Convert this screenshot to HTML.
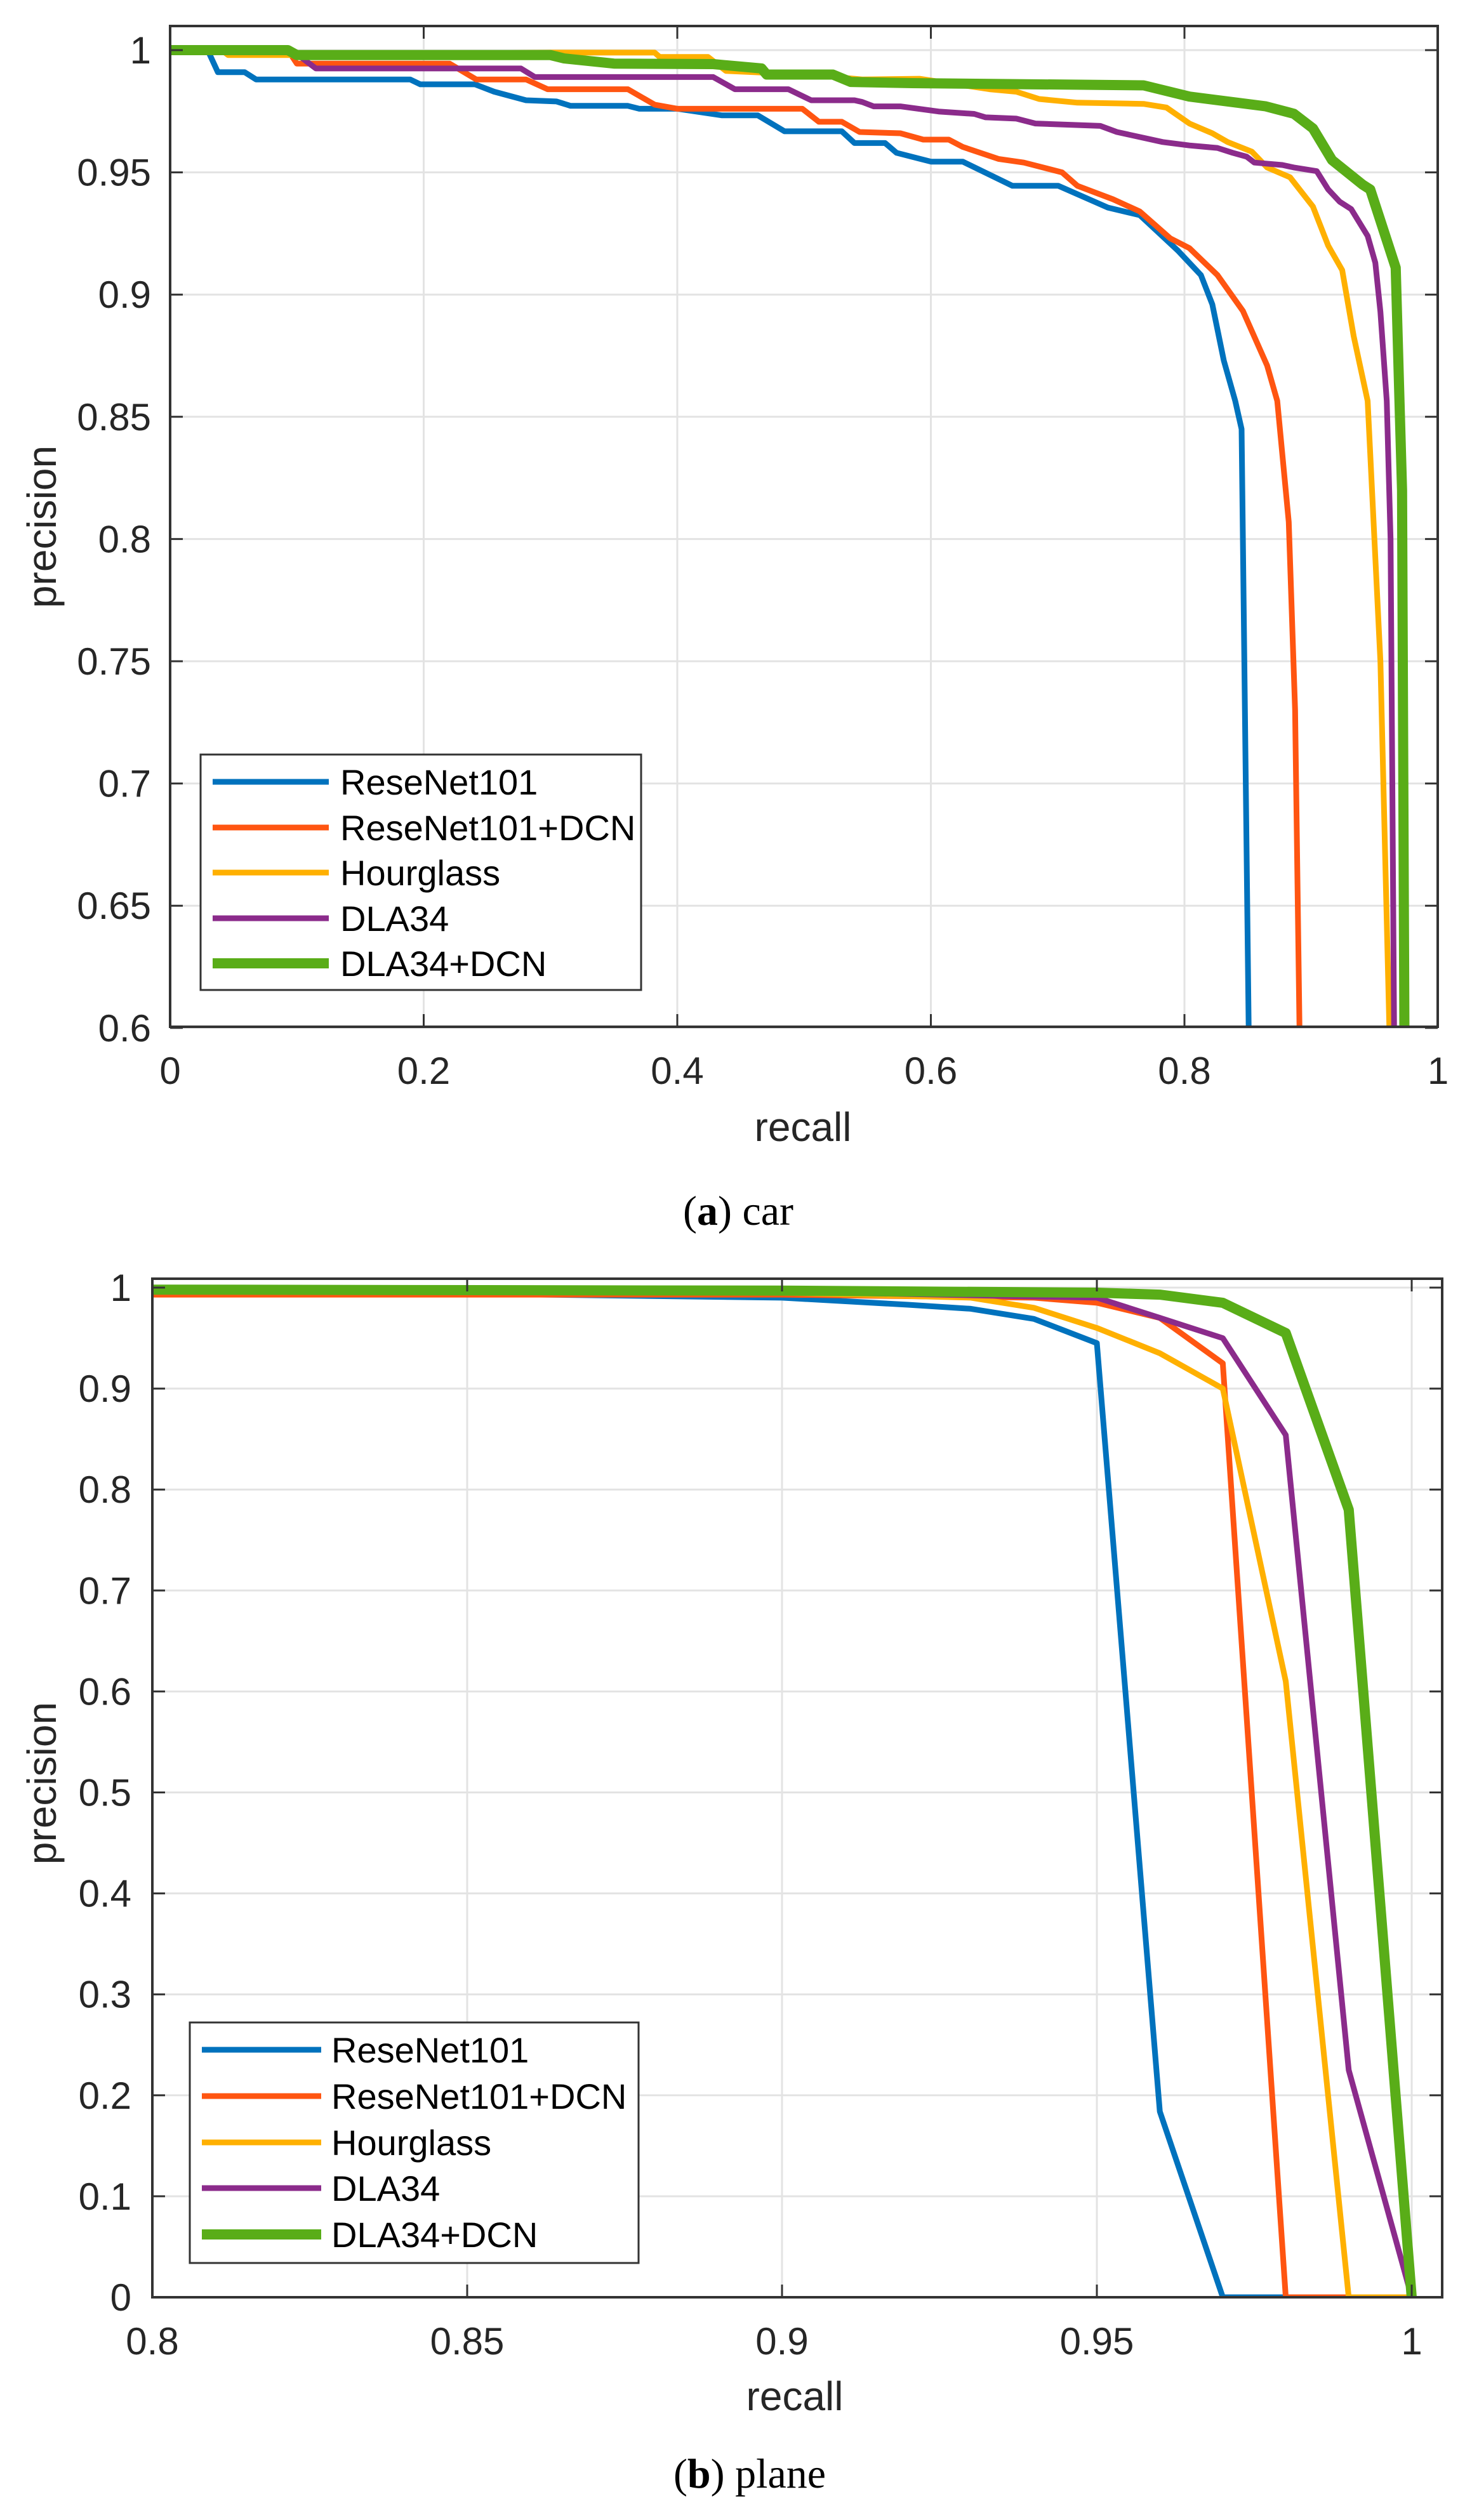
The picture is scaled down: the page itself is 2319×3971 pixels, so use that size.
<!DOCTYPE html>
<html><head><meta charset="utf-8"><style>
html,body{margin:0;padding:0;background:#fff;}
svg{display:block;}
</style></head><body>
<svg id="s" width="2319" height="3971" viewBox="0 0 2319 3971" xmlns="http://www.w3.org/2000/svg" font-family="Liberation Sans, Arial, sans-serif">
<rect width="2319" height="3971" fill="#fff"/>
<defs>
<clipPath id="ca"><rect x="268" y="41" width="1997" height="1577"/></clipPath>
<clipPath id="cb"><rect x="240" y="2015" width="2032" height="1605"/></clipPath>
</defs>
<g id="grid"></g>
<g id="curves"></g>
<g id="axes"></g>
<g id="txt" fill="#262626" font-size="60">
<text x="71" y="830" font-size="64" text-anchor="middle" transform="rotate(-90 71 830)" dominant-baseline="middle">precision</text>
<text x="1265" y="1798" font-size="64" text-anchor="middle">recall</text>
<text x="1163" y="1930" font-size="66" text-anchor="middle" font-family="Liberation Serif, serif" fill="#000">(<tspan font-weight="bold">a</tspan>) car</text>
<text x="71" y="2810" font-size="64" text-anchor="middle" transform="rotate(-90 71 2810)" dominant-baseline="middle">precision</text>
<text x="1252" y="3798" font-size="64" text-anchor="middle">recall</text>
<text x="1181" y="3920" font-size="66" text-anchor="middle" font-family="Liberation Serif, serif" fill="#000">(<tspan font-weight="bold">b</tspan>) plane</text>
</g>
<g id="leg"></g>
</svg>
<script>
var NS="http://www.w3.org/2000/svg";
function el(p,t,a,txt){var e=document.createElementNS(NS,t);for(var k in a)e.setAttribute(k,a[k]);if(txt!==undefined)e.textContent=txt;document.getElementById(p).appendChild(e);return e;}
var cols=["#0072BD","#FF5511","#FFB000","#8B2B8B","#59AD18"];
var widths=[9,9,9,9,16];
var names=["ReseNet101","ReseNet101+DCN","Hourglass","DLA34","DLA34+DCN"];
var A={l:268,r:2265,t:41,b:1618,T:function(r){return 268+1997.5*r;},X:function(r){return 269+2006*r;},Y:function(p){return 79+(1-p)*3852;}};
var B={l:240,r:2272,t:2015,b:3620,X:function(r){return 240+(r-0.8)/0.05*496;},Y:function(p){return 3620-p*1591;}};
B.T=B.X;
var i,v,x,y;
for(i=0;i<=5;i++){v=i*0.2;x=A.T(v);
 el("grid","line",{x1:x,y1:A.t,x2:x,y2:A.b,stroke:"#e3e3e3","stroke-width":3});
 el("axes","line",{x1:x,y1:A.b,x2:x,y2:A.b-20,stroke:"#333","stroke-width":3});
 el("axes","line",{x1:x,y1:A.t,x2:x,y2:A.t+20,stroke:"#333","stroke-width":3});
 el("txt","text",{x:x,y:1708,"text-anchor":"middle"},String(Math.round(v*10)/10));}
for(i=0;i<=8;i++){v=0.6+i*0.05;y=A.Y(v);
 el("grid","line",{x1:A.l,y1:y,x2:A.r,y2:y,stroke:"#e3e3e3","stroke-width":3});
 el("axes","line",{x1:A.l,y1:y,x2:A.l+20,y2:y,stroke:"#333","stroke-width":3});
 el("axes","line",{x1:A.r,y1:y,x2:A.r-20,y2:y,stroke:"#333","stroke-width":3});
 el("txt","text",{x:238,y:y+21,"text-anchor":"end"},String(Math.round(v*100)/100));}
for(i=0;i<=4;i++){v=0.8+i*0.05;x=B.X(v);
 el("grid","line",{x1:x,y1:B.t,x2:x,y2:B.b,stroke:"#e3e3e3","stroke-width":3});
 el("axes","line",{x1:x,y1:B.b,x2:x,y2:B.b-20,stroke:"#333","stroke-width":3});
 el("axes","line",{x1:x,y1:B.t,x2:x,y2:B.t+20,stroke:"#333","stroke-width":3});
 el("txt","text",{x:x,y:3710,"text-anchor":"middle"},String(Math.round(v*100)/100));}
for(i=0;i<=10;i++){v=i*0.1;y=B.Y(v);
 el("grid","line",{x1:B.l,y1:y,x2:B.r,y2:y,stroke:"#e3e3e3","stroke-width":3});
 el("axes","line",{x1:B.l,y1:y,x2:B.l+20,y2:y,stroke:"#333","stroke-width":3});
 el("axes","line",{x1:B.r,y1:y,x2:B.r-20,y2:y,stroke:"#333","stroke-width":3});
 el("txt","text",{x:207,y:y+21,"text-anchor":"end"},String(Math.round(v*10)/10));}
el("axes","rect",{x:A.l,y:A.t,width:A.r-A.l,height:A.b-A.t,fill:"none",stroke:"#333","stroke-width":4});
el("axes","rect",{x:B.l,y:B.t,width:B.r-B.l,height:B.b-B.t,fill:"none",stroke:"#333","stroke-width":4});
var dA=[
[[0,1],[.029,1],[.037,.991],[.058,.991],[.067,.988],[.188,.988],[.196,.986],[.239,.986],[.254,.983],[.279,.9795],[.303,.979],[.314,.9772],[.359,.9772],[.368,.976],[.398,.976],[.433,.9733],[.461,.9733],[.482,.9668],[.527,.9668],[.537,.962],[.561,.962],[.570,.958],[.597,.9544],[.622,.9544],[.661,.9445],[.697,.9445],[.736,.9356],[.761,.9325],[.791,.918],[.809,.908],[.818,.896],[.827,.873],[.836,.8565],[.841,.845],[.847,.58]],
[[0,1],[.092,1],[.099,.9945],[.219,.9945],[.240,.988],[.279,.988],[.296,.984],[.359,.984],[.380,.9777],[.398,.976],[.496,.976],[.509,.9707],[.527,.9707],[.541,.9665],[.573,.966],[.591,.9634],[.611,.9634],[.622,.9604],[.650,.9555],[.670,.954],[.700,.950],[.712,.9445],[.740,.939],[.761,.934],[.785,.923],[.800,.919],[.822,.908],[.842,.8933],[.861,.871],[.869,.8565],[.878,.807],[.883,.73],[.887,.58]],
[[0,1],[.04,1],[.045,.998],[.092,.998],[.3,.999],[.38,.999],[.384,.9972],[.422,.9972],[.436,.9915],[.5,.99],[.543,.988],[.588,.9883],[.643,.984],[.664,.983],[.682,.980],[.712,.9785],[.764,.978],[.782,.9765],[.800,.970],[.818,.966],[.830,.9624],[.849,.9585],[.861,.952],[.879,.948],[.897,.936],[.909,.920],[.920,.910],[.929,.883],[.940,.8565],[.950,.75],[.958,.58]],
[[0,1],[.095,1],[.114,.9925],[.275,.9925],[.286,.989],[.426,.989],[.443,.984],[.485,.984],[.503,.9795],[.537,.9795],[.543,.9788],[.552,.977],[.573,.977],[.603,.9749],[.631,.9739],[.640,.9725],[.664,.972],[.679,.970],[.730,.969],[.743,.9665],[.779,.9624],[.800,.961],[.822,.960],[.834,.958],[.845,.9564],[.851,.954],[.873,.953],[.882,.952],[.900,.9505],[.909,.943],[.918,.938],[.927,.935],[.940,.924],[.946,.913],[.950,.893],[.955,.8565],[.958,.8],[.961,.58]],
[[0,1],[.092,1],[.099,.998],[.298,.998],[.309,.9966],[.348,.9945],[.426,.9943],[.464,.9925],[.468,.990],[.52,.990],[.534,.987],[.582,.9865],[.764,.9856],[.80,.981],[.86,.977],[.882,.974],[.897,.968],[.912,.955],[.936,.945],[.942,.943],[.962,.911],[.965,.856],[.967,.82],[.969,.58]]];
var dB=[
[[.8,.995],[.85,.994],[.9,.99],[.92,.983],[.93,.979],[.94,.969],[.95,.945],[.96,.184],[.97,0],[1,0]],
[[.8,.993],[.9,.993],[.94,.99],[.95,.985],[.96,.97],[.97,.925],[.98,0],[1,0]],
[[.8,.998],[.9,.995],[.93,.99],[.94,.98],[.95,.96],[.96,.935],[.97,.90],[.98,.61],[.99,0],[1,0]],
[[.8,.997],[.9,.996],[.95,.99],[.96,.97],[.97,.95],[.98,.854],[.99,.225],[1,0]],
[[.8,.998],[.9,.997],[.95,.995],[.96,.993],[.97,.985],[.98,.955],[.99,.78],[1,0]]];
function pts(d,C){return d.map(function(q){return C.X(q[0]).toFixed(1)+","+C.Y(q[1]).toFixed(1);}).join(" ");}
for(i=0;i<5;i++){
 el("curves","polyline",{points:pts(dA[i],A),fill:"none",stroke:cols[i],"stroke-width":widths[i],"stroke-linejoin":"round","clip-path":"url(#ca)"});
 el("curves","polyline",{points:pts(dB[i],B),fill:"none",stroke:cols[i],"stroke-width":widths[i],"stroke-linejoin":"round","clip-path":"url(#cb)"});}
function legend(x0,y0,x1,y1,rowY,lx0,lx1,tx){
 el("leg","rect",{x:x0,y:y0,width:x1-x0,height:y1-y0,fill:"#fff",stroke:"#333","stroke-width":3});
 for(var k=0;k<5;k++){var yy=rowY[k];
  el("leg","line",{x1:lx0,y1:yy,x2:lx1,y2:yy,stroke:cols[k],"stroke-width":widths[k]});
  el("leg","text",{x:tx,y:yy+20,"font-size":56,fill:"#000"},names[k]);}}
legend(316,1189,1010,1560,[1232,1304,1375,1447,1518],335,518,536);
legend(299,3187,1006,3566,[3230,3303,3376,3448,3521],318,506,522);
</script>
</body></html>
